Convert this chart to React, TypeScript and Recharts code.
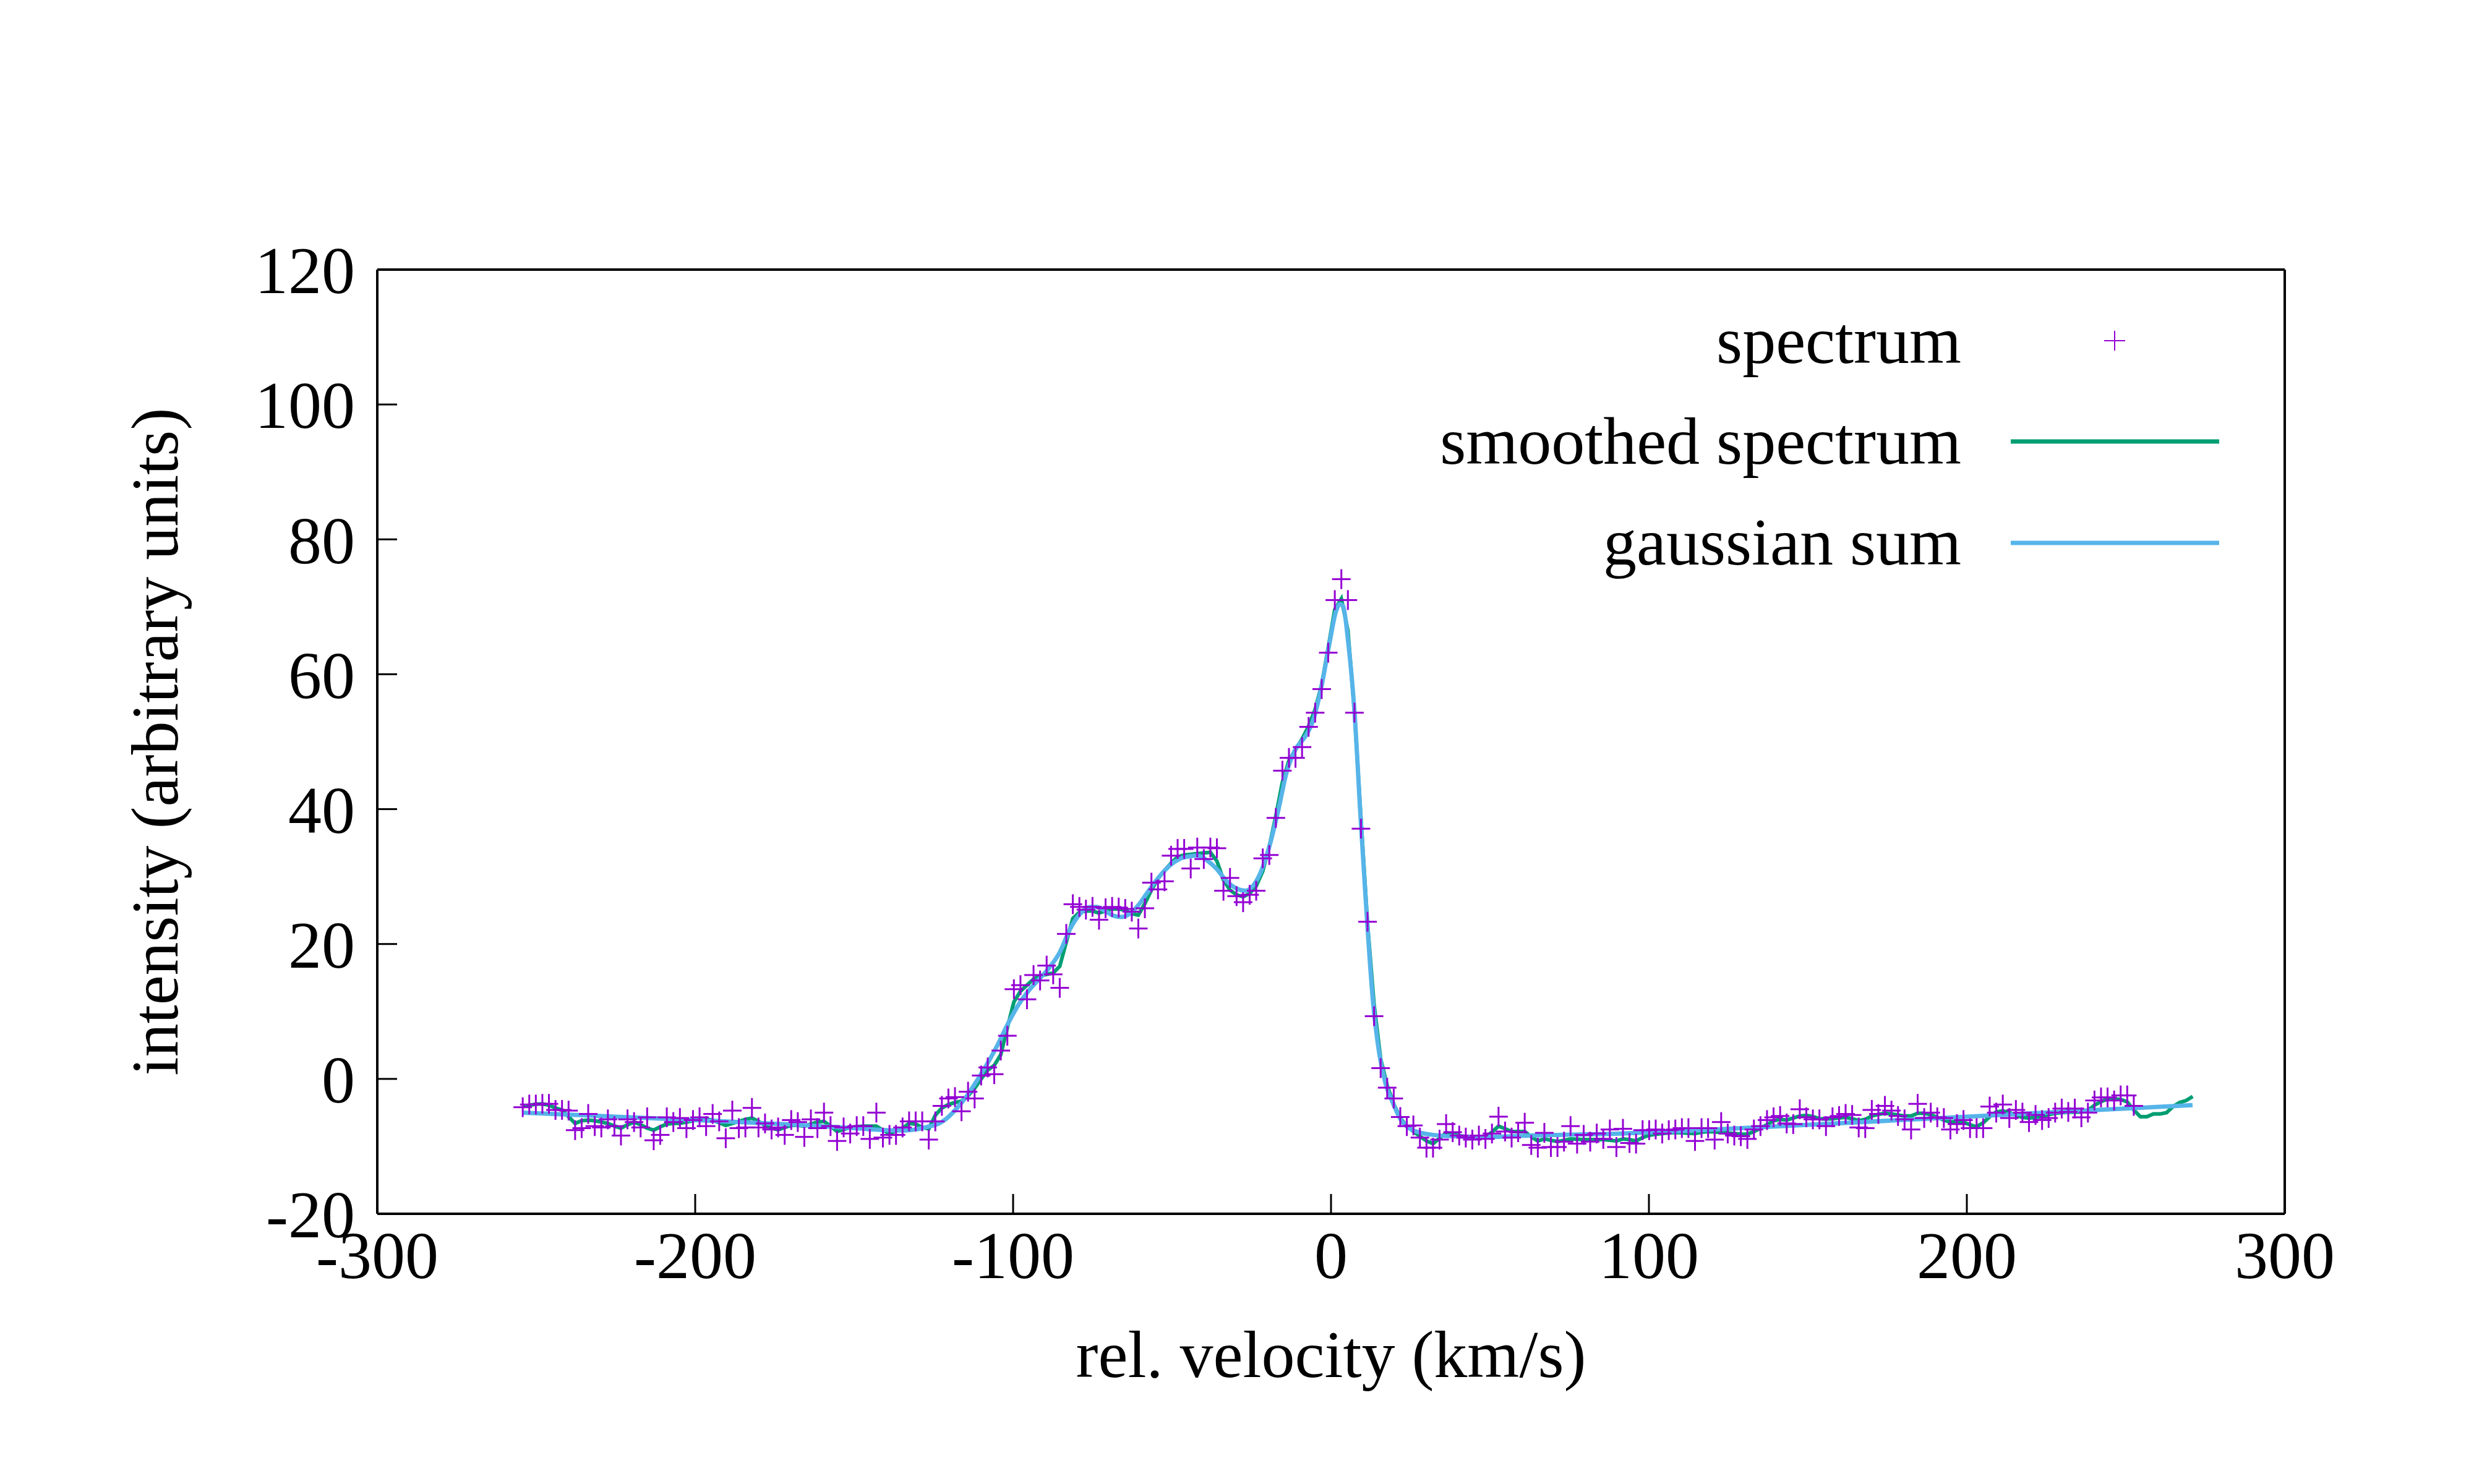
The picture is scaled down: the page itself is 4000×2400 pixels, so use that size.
import React from 'react';
import {
  ComposedChart,
  Line,
  Scatter,
  XAxis,
  YAxis,
  Legend,
} from 'recharts';

const FONT = '"Liberation Serif", "Times New Roman", serif';
const PURPLE = '#9400d3';
const GREEN = '#009e73';
const BLUE = '#56b4e9';

// velocity channels of the spectrum (km/s)
const V_START = -254.25;
const V_STEP = 2.06;

// measured spectrum, one value per channel
const spectrum = [
  -4.2, -3.8, -3.8, -3.7, -3.7, -4.6, -4.6, -4.7, -7.6, -7.3,
  -5.2, -7.0, -7.2, -6.0, -7.0, -8.4, -6.0, -6.4, -7.2, -5.7,
  -9.1, -8.3, -5.7, -6.4, -5.8, -7.3, -6.1, -5.7, -7.0, -5.2,
  -6.3, -8.8, -4.7, -7.3, -7.2, -4.3, -7.2, -6.6, -7.5, -7.2,
  -8.3, -6.1, -6.4, -8.6, -6.0, -7.3, -5.0, -7.0, -9.2, -7.2,
  -8.1, -7.0, -7.0, -8.9, -5.0, -8.7, -8.3, -8.3, -7.2, -6.3,
  -6.3, -6.3, -9.0, -6.3, -4.0, -2.9, -2.7, -4.8, -1.9, -2.9,
  0.5, 1.7, 0.7, 4.2, 6.4, 13.3, 13.9, 11.8, 15.4, 14.6,
  16.8, 15.5, 13.5, 21.5, 25.9, 25.5, 25.1, 25.5, 23.6, 25.3,
  25.5, 25.4, 25.2, 24.8, 22.3, 25.3, 29.1, 28.1, 29.3, 33.1,
  34.1, 34.1, 31.2, 34.3, 32.6, 34.3, 34.2, 27.9, 29.8, 27.1,
  26.2, 27.3, 27.9, 32.7, 33.2, 38.7, 45.7, 47.6, 47.6, 49.2,
  52.2, 54.3, 57.8, 63.2, 71.0, 74.1, 71.0, 54.3, 37.1, 23.3,
  9.3, 1.6, -1.3, -2.9, -5.65, -7.0, -6.9, -8.7, -10.2, -10.2,
  -9.0, -6.7, -7.9, -8.4, -8.7, -9.0, -8.4, -8.9, -8.1, -5.6,
  -7.8, -8.7, -7.9, -6.5, -9.8, -10.2, -8.0, -10.1, -10.1, -9.3,
  -7.0, -9.6, -8.3, -9.3, -8.1, -8.9, -7.5, -10.1, -7.4, -9.5,
  -9.6, -7.6, -7.6, -7.5, -8.1, -7.6, -7.5, -7.3, -7.3, -9.2,
  -7.3, -7.3, -9.0, -6.4, -8.1, -8.4, -8.5, -8.9, -7.5, -7.0,
  -6.1, -5.7, -5.5, -6.6, -6.7, -4.5, -5.7, -6.0, -6.0, -7.0,
  -5.7, -5.5, -5.2, -5.35, -7.2, -7.3, -4.6, -5.2, -4.0, -4.7,
  -5.5, -6.0, -7.5, -3.7, -5.8, -5.0, -5.7, -5.8, -7.5, -6.7,
  -6.1, -7.3, -7.3, -7.3, -4.1, -5.0, -3.8, -5.8, -4.6, -5.0,
  -6.4, -5.35, -6.1, -5.8, -5.0, -4.4, -4.9, -4.4, -5.7, -5.0,
  -3.2, -2.75, -2.75, -3.2, -2.45, -2.45, -4.0,
];

// smoothed spectrum, same channels (runs a bit further right)
const smoothed = [
  -4.1, -3.9, -3.75, -3.7, -3.9, -4.3, -4.6, -5.6, -6.6, -6.2,
  -6.1, -6.2, -6.4, -6.6, -7.0, -7.3, -6.8, -6.4, -6.8, -7.3,
  -7.6, -7.1, -6.7, -6.6, -6.6, -6.4, -6.2, -6.05, -6.0, -6.1,
  -6.5, -6.9, -6.6, -6.3, -6.0, -5.8, -6.3, -6.9, -7.3, -7.55,
  -7.2, -6.9, -6.9, -7.0, -6.7, -6.4, -6.3, -7.0, -7.8, -7.5,
  -7.2, -7.1, -7.0, -7.0, -7.0, -7.6, -8.1, -7.7, -7.3, -6.6,
  -6.7, -7.2, -7.4, -5.4, -4.3, -3.8, -3.5, -3.3, -2.5, -1.4,
  0.0, 1.3, 2.0, 3.6, 7.6, 11.4, 13.0, 13.9, 14.8, 15.3,
  15.5, 15.7, 16.7, 20.3, 23.8, 24.7, 24.9, 24.9, 24.6, 24.9,
  25.2, 25.2, 25.0, 24.5, 24.3, 26.0, 28.0, 29.7, 30.9, 32.0,
  32.9, 33.2, 33.3, 33.4, 33.5, 33.6, 32.3, 29.5, 28.0, 27.3,
  27.0, 27.5, 28.6, 30.8, 34.5, 39.0, 44.0, 47.2, 48.8, 50.4,
  52.3, 54.8, 58.5, 64.0, 69.6, 71.2, 66.5, 54.5, 38.5, 23.0,
  11.0, 3.0, -1.0, -3.7, -5.8, -7.0, -7.8, -8.5, -9.2, -9.6,
  -8.8, -8.0, -8.1, -8.4, -8.6, -8.7, -8.7, -8.6, -7.9, -7.0,
  -7.4, -7.8, -7.8, -7.8, -8.6, -9.2, -8.9, -9.1, -9.3, -9.1,
  -8.9, -8.95, -9.0, -9.0, -9.0, -9.0, -9.1, -9.2, -8.9, -9.0,
  -9.2, -8.7, -8.35, -8.2, -8.1, -8.0, -7.95, -8.0, -8.05, -8.1,
  -7.9, -7.8, -7.85, -7.95, -8.0, -8.1, -8.2, -8.2, -7.8, -7.3,
  -6.8, -6.2, -6.0, -6.1, -5.8, -5.5, -5.4, -5.6, -5.9, -5.95,
  -5.9, -5.8, -5.7, -5.9, -6.2, -6.0, -5.5, -5.25, -5.1, -5.2,
  -5.35, -5.5, -5.5, -5.1, -5.1, -5.3, -5.7, -6.1, -6.4, -6.3,
  -6.4, -6.8, -7.1, -6.5, -5.6, -4.9, -4.75, -5.0, -5.4, -5.7,
  -5.8, -5.7, -5.6, -5.3, -5.1, -5.0, -4.95, -4.95, -4.9, -4.7,
  -3.9, -3.35, -3.0, -2.95, -3.05, -3.4, -4.6, -5.6, -5.6, -5.2,
  -5.2, -5.0, -4.1, -3.5, -3.2, -2.6,
];

// gaussian sum fit, read at its own velocities
const gaussVelocity = [
  -254.2, -230, -200, -170, -150, -140, -134, -130.7, -126.9, -124.3,
  -121.0, -117.8, -114.5, -111.3, -108.0, -104.8, -101.6, -98.3, -95.1, -91.8,
  -88.6, -85.3, -82.1, -78.9, -75.6, -73.7, -71.1, -68.5, -65.9, -63.3,
  -60.7, -58.1, -55.5, -52.9, -50.3, -47.7, -44.5, -41.9, -38.7, -36.1,
  -32.8, -29.6, -27.0, -24.4, -21.8, -19.2, -16.6, -14.0, -11.4, -8.2,
  -5.6, -3.0, -0.4, 1.55, 2.85, 3.8, 5.4, 7.4, 9.3, 11.3,
  13.2, 15.2, 17.1, 19.4, 21.9, 25.3, 32.1, 40.5, 48.9, 62.4,
  91.1, 116.4, 147.5, 200, 271,
];
const gaussIntensity = [
  -5.0, -5.5, -6.1, -6.75, -7.3, -7.6, -7.65, -7.5, -7.1, -6.8,
  -5.9, -4.4, -2.5, -0.2, 2.35, 5.1, 8.2, 11.0, 13.1, 14.8,
  16.5, 18.8, 22.2, 24.5, 25.5, 25.5, 24.9, 24.2, 24.0, 24.5,
  25.7, 27.4, 29.1, 30.6, 31.8, 32.6, 33.0, 33.1, 32.3, 31.2,
  29.3, 28.2, 27.9, 28.7, 31.0, 34.8, 39.8, 45.4, 48.7, 50.7,
  53.2, 58.2, 64.8, 69.3, 70.4, 70.1, 64.8, 54.3, 38.7, 23.7,
  11.5, 3.7, -0.6, -3.5, -6.0, -7.5, -8.3, -8.55, -8.6, -8.4,
  -8.1, -7.6, -6.87, -5.6, -3.88,
];

const xTicks = [-300, -200, -100, 0, 100, 200, 300];
const yTicks = [-20, 0, 20, 40, 60, 80, 100, 120];

const legendItems = ['spectrum', 'smoothed spectrum', 'gaussian sum'];

const spectrumData = spectrum.map((y, i) => ({ v: V_START + i * V_STEP, y }));
const smoothedData = smoothed.map((y, i) => ({ v: V_START + i * V_STEP, y }));
const gaussData = gaussVelocity.map((v, i) => ({ v, y: gaussIntensity[i] }));

const tickFont = { fontSize: 108, fontFamily: FONT, fill: '#000' };

const CrossMark = (props: any) => {
  const { cx, cy } = props;
  if (cx == null || cy == null) return null;
  return (
    <g stroke={PURPLE} strokeWidth={3}>
      <line x1={cx - 15} x2={cx + 15} y1={cy} y2={cy} />
      <line x1={cx} x2={cx} y1={cy - 16} y2={cy + 16} />
    </g>
  );
};

const XTitle = (props: any) => {
  const vb = props.viewBox;
  return (
    <text x={vb.x + vb.width / 2} y={vb.y + 264} textAnchor="middle" fontSize={108} fontFamily={FONT} fill="#000">
      rel. velocity (km/s)
    </text>
  );
};

const YTitle = (props: any) => {
  const vb = props.viewBox;
  const x = vb.x - 322;
  const y = vb.y + vb.height / 2;
  return (
    <text x={x} y={y} transform={`rotate(-90, ${x}, ${y})`} textAnchor="middle" fontSize={108} fontFamily={FONT} fill="#000">
      intensity (arbitrary units)
    </text>
  );
};

// gnuplot style key in the upper right corner
const KeyBox = () => (
  <svg width={4000} height={2400} style={{ position: 'absolute', left: 0, top: 0 }}>
    <g fontSize={108} fontFamily={FONT} fill="#000" textAnchor="end">
      <text x={3171} y={587}>{legendItems[0]}</text>
      <text x={3171} y={750}>{legendItems[1]}</text>
      <text x={3171} y={913}>{legendItems[2]}</text>
    </g>
    <g stroke={PURPLE} strokeWidth={2}>
      <line x1={3402} x2={3436} y1={551} y2={551} />
      <line x1={3419} x2={3419} y1={535} y2={567} />
    </g>
    <line x1={3251} x2={3588} y1={714} y2={714} stroke={GREEN} strokeWidth={7} />
    <line x1={3251} x2={3588} y1={878} y2={878} stroke={BLUE} strokeWidth={7} />
  </svg>
);

const axisLine = { stroke: '#000', strokeWidth: 4 };
const tickLine = { stroke: '#000', strokeWidth: 3 };

export default function App() {
  return (
    <div style={{ position: 'absolute', left: 0, top: 0, width: 4000, height: 2400, background: '#fff' }}>
      <ComposedChart width={4000} height={2400} margin={{ top: 435, right: 305, bottom: 436, left: 609 }}>
        <XAxis
          type="number"
          dataKey="v"
          domain={[-300, 300]}
          ticks={xTicks}
          interval={0}
          height={1}
          tickSize={-32}
          tickMargin={59}
          tick={tickFont}
          axisLine={axisLine}
          tickLine={tickLine}
          label={XTitle}
        />
        <XAxis
          xAxisId="top"
          orientation="top"
          type="number"
          dataKey="v"
          domain={[-300, 300]}
          ticks={xTicks}
          interval={0}
          height={1}
          tickSize={-32}
          tick={false}
          axisLine={axisLine}
          tickLine={tickLine}
        />
        <YAxis
          type="number"
          domain={[-20, 120]}
          ticks={yTicks}
          interval={0}
          width={1}
          tickSize={-32}
          tickMargin={68}
          tick={tickFont}
          axisLine={axisLine}
          tickLine={tickLine}
          label={YTitle}
        />
        <YAxis
          yAxisId="right"
          orientation="right"
          type="number"
          domain={[-20, 120]}
          ticks={yTicks}
          interval={0}
          width={1}
          tickSize={-32}
          tick={false}
          axisLine={axisLine}
          tickLine={tickLine}
        />
        <Scatter name="spectrum" data={spectrumData} dataKey="y" shape={CrossMark} isAnimationActive={false} />
        <Line
          name="smoothed spectrum"
          data={smoothedData}
          dataKey="y"
          type="linear"
          stroke={GREEN}
          strokeWidth={6}
          dot={false}
          isAnimationActive={false}
        />
        <Line
          name="gaussian sum"
          data={gaussData}
          dataKey="y"
          type="monotone"
          stroke={BLUE}
          strokeWidth={7}
          dot={false}
          isAnimationActive={false}
        />
        <Legend
          layout="vertical"
          align="center"
          verticalAlign="middle"
          content={KeyBox}
          wrapperStyle={{ left: 0, top: 0, width: 4000, height: 2400, pointerEvents: 'none' }}
        />
      </ComposedChart>
    </div>
  );
}
